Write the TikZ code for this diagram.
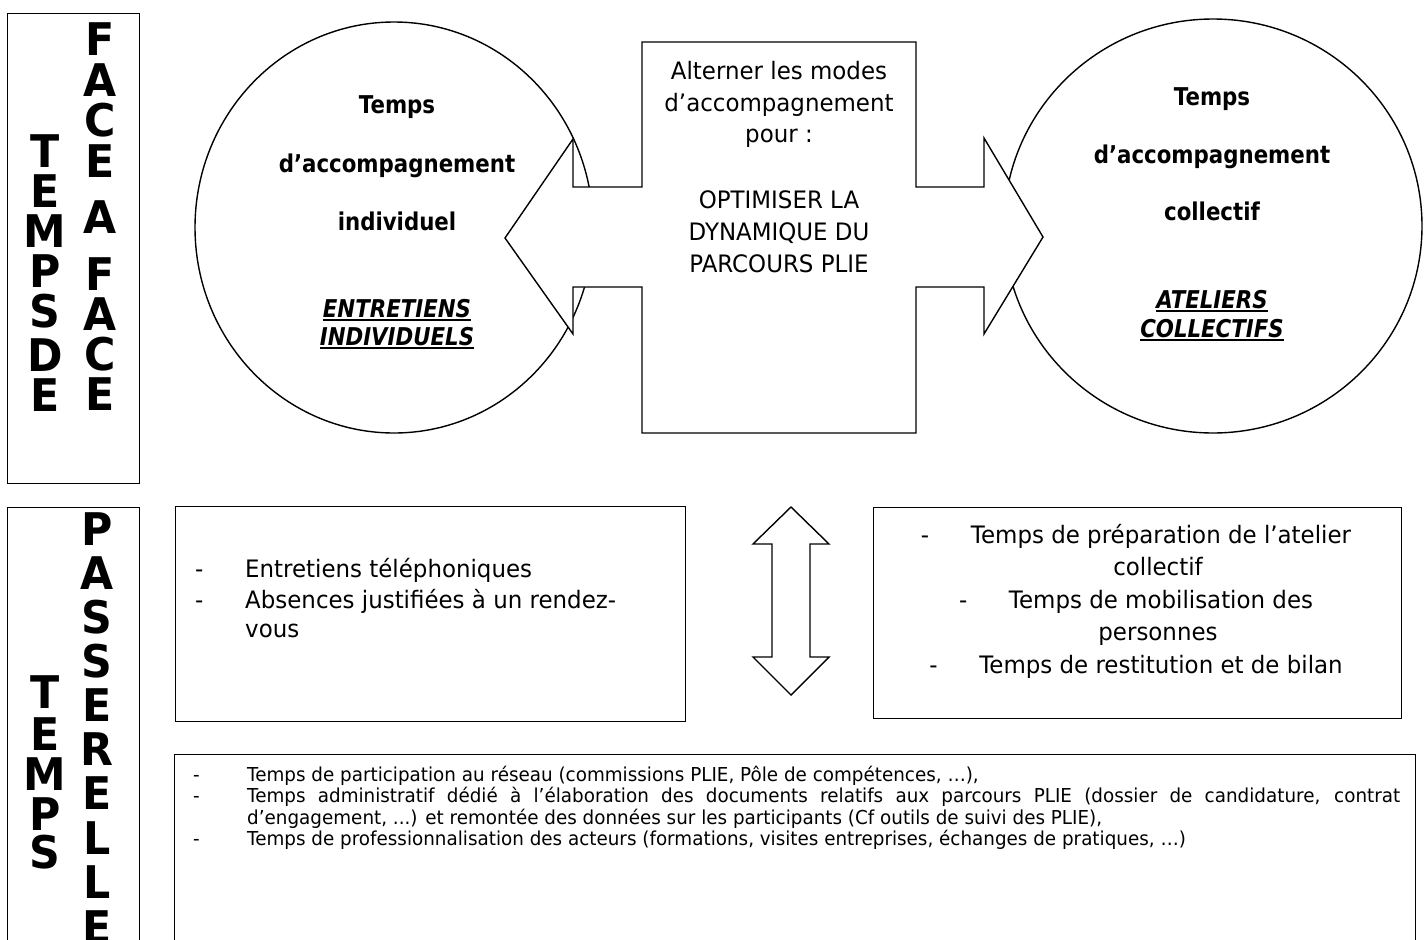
\documentclass[tikz,border=0pt]{standalone}
\usepackage{fontspec}
\setmainfont{DejaVu Sans}[FakeStretch=0.955]
\newfontfamily\bfam{DejaVu Sans}[FakeStretch=0.87]
\newfontfamily\gfam{DejaVu Sans}[FakeStretch=0.95]
\usetikzlibrary{shapes.geometric}
\tikzset{
  frame/.style={draw, line width=1.4pt},
  rbox/.style={frame, anchor=north west, inner sep=0},
  txt/.style={inner sep=0, anchor=base, font=\fontsize{24}{30}\selectfont},
  ltxt/.style={inner sep=0, anchor=base west, font=\fontsize{24}{30}\selectfont},
  btxt/.style={inner sep=0, anchor=base, font=\bfam\bfseries\fontsize{24.5}{30}\selectfont},
  bitxt/.style={inner sep=0, anchor=base, font=\bfam\bfseries\itshape\fontsize{24.5}{30}\selectfont},
  bigl/.style={inner sep=0, anchor=north, font=\gfam\bfseries\fontsize{45}{50}\selectfont},
  stxt/.style={inner sep=0, anchor=base west, font=\fontsize{19.2}{22}\selectfont},
  ulin/.style={line width=1.8pt},
}
\begin{document}
\begin{tikzpicture}[x=1pt,y=-1pt]
\useasboundingbox (0,0) rectangle (1428,940);
% ---------- left label frames ----------
\node[rbox, minimum width=132, minimum height=470] (lab1) at (7,13) {};
\node[rbox, minimum width=132, minimum height=460] (lab2) at (7,507) {};
\foreach \l/\yy [count=\i] in {F/22,A/63,C/103,E/144,A/200,F/257,A/297,C/337,E/377}
  \node[bigl] (fa\i) at (100,\yy) {\l};
\foreach \l/\yy [count=\i] in {T/134,E/174,M/214,P/254,S/294,D/338,E/378}
  \node[bigl] (td\i) at (45,\yy) {\l};
\foreach \l/\yy [count=\i] in {P/512,A/556,S/600,S/644,E/688,R/732,E/776,L/821,L/865,E/910}
  \node[bigl] (pa\i) at (97,\yy) {\l};
\foreach \l/\yy [count=\i] in {T/675,E/717,M/757,P/797,S/835}
  \node[bigl] (tp\i) at (45,\yy) {\l};
% ---------- circles ----------
\node[frame, ellipse, minimum width=398, minimum height=411, inner sep=0] (cl) at (394,227.5) {};
\node[frame, ellipse, minimum width=418, minimum height=414, inner sep=0] (cr) at (1213,226) {};
% ---------- central double arrow box ----------
\draw[frame, fill=white] (642,42) -- (916,42) -- (916,187) -- (984,187) -- (984,138)
  -- (1043,237) -- (984,334) -- (984,287) -- (916,287) -- (916,433) -- (642,433)
  -- (642,287) -- (573,287) -- (573,334) -- (505,238) -- (573,139) -- (573,187)
  -- (642,187) -- cycle;
\node[txt] (c1) at (779,79) {Alterner les modes};
\node[txt] (c2) at (779,111) {d’accompagnement};
\node[txt] (c3) at (779,142) {pour :};
\node[txt] (c4) at (779,208) {OPTIMISER LA};
\node[txt] (c5) at (779,240) {DYNAMIQUE DU};
\node[txt] (c6) at (779,272) {PARCOURS PLIE};
% ---------- left circle text ----------
\node[btxt] (l1) at (397,113) {Temps};
\node[btxt] (l2) at (397,172) {d’accompagnement};
\node[btxt] (l3) at (397,230) {individuel};
\node[bitxt] (l4) at (397,317) {ENTRETIENS};
\node[bitxt] (l5) at (397,345) {INDIVIDUELS};
\draw[ulin] ([yshift=-3pt]l4.base west) -- ([yshift=-3pt]l4.base east);
\draw[ulin] ([yshift=-3pt]l5.base west) -- ([yshift=-3pt]l5.base east);
% ---------- right circle text ----------
\node[btxt] (r1) at (1212,105) {Temps};
\node[btxt] (r2) at (1212,163) {d’accompagnement};
\node[btxt] (r3) at (1212,220) {collectif};
\node[bitxt] (r4) at (1212,308) {ATELIERS};
\node[bitxt] (r5) at (1212,337) {COLLECTIFS};
\draw[ulin] ([yshift=-3pt]r4.base west) -- ([yshift=-3pt]r4.base east);
\draw[ulin] ([yshift=-3pt]r5.base west) -- ([yshift=-3pt]r5.base east);
% ---------- middle row ----------
\node[rbox, minimum width=510, minimum height=215] (mbl) at (175,506) {};
\node[ltxt] (d1) at (195,577) {-};
\node[ltxt] (m1) at (245,577) {Entretiens téléphoniques};
\node[ltxt] (d2) at (195,608) {-};
\node[ltxt] (m2) at (245,608) {Absences justifiées à un rendez-};
\node[ltxt] (m3) at (245,637) {vous};
\draw[frame, fill=white] (791,507) -- (829,544) -- (810,544) -- (810,657) -- (829,657)
  -- (791,695) -- (753,657) -- (772,657) -- (772,544) -- (753,544) -- cycle;
\node[rbox, minimum width=528, minimum height=211] (mbr) at (873,507) {};
\node[txt] (n1) at (1136,543) {\makebox[50pt][l]{-}Temps de préparation de l’atelier};
\node[txt] (n2) at (1158,575.5) {collectif};
\node[txt] (n3) at (1136,608) {\makebox[50pt][l]{-}Temps de mobilisation des};
\node[txt] (n4) at (1158,640.5) {personnes};
\node[txt] (n5) at (1136,673) {\makebox[50pt][l]{-}Temps de restitution et de bilan};
% ---------- bottom box ----------
\node[rbox, minimum width=1241, minimum height=220] (bb) at (174,754) {};
\node[stxt] (e1) at (193,781) {-};
\node[stxt] (b1) at (247,781) {Temps de participation au réseau (commissions PLIE, Pôle de compétences, …),};
\node[stxt] (e2) at (193,802.5) {-};
\node[stxt] (b2) at (247,802.5) {\makebox[1153pt][s]{Temps administratif dédié à l’élaboration des documents relatifs aux parcours PLIE (dossier de candidature, contrat}};
\node[stxt] (b3) at (247,824) {d’engagement, ...) et remontée des données sur les participants (Cf outils de suivi des PLIE),};
\node[stxt] (e3) at (193,845.5) {-};
\node[stxt] (b4) at (247,845.5) {Temps de professionnalisation des acteurs (formations, visites entreprises, échanges de pratiques, …)};
\end{tikzpicture}
\end{document}
